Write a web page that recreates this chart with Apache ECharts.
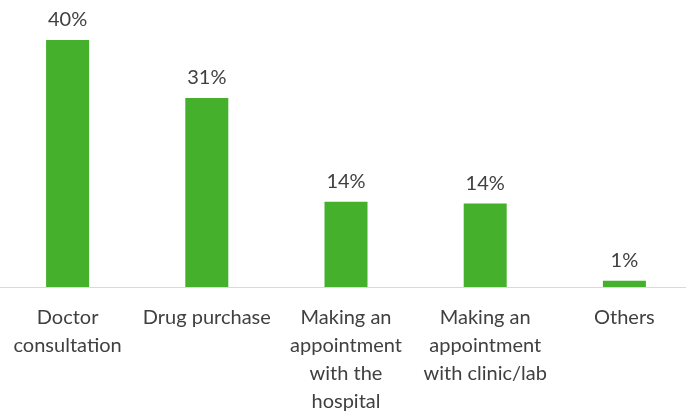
<!DOCTYPE html>
<html>
<head>
<meta charset="utf-8">
<script src="https://cdn.jsdelivr.net/npm/echarts@6/dist/echarts.min.js"></script>
<style>
  html, body { margin: 0; padding: 0; background: #fff; }
  #chart { width: 686px; height: 412px; }
</style>
</head>
<body>
<div id="chart"></div>
<script>
var categories = [
  'Doctor\nconsultation',
  'Drug purchase',
  'Making an\nappointment\nwith the\nhospital',
  'Making an\nappointment\nwith clinic/lab',
  'Others'
];
var shares = [40, 30.6, 13.8, 13.5, 1.0];

var dom = document.getElementById('chart');
var myChart = echarts.init(dom);

var option = {
  backgroundColor: '#fff',
  animation: false,
  grid: {
    left: -2,
    width: 696,
    top: 9,
    bottom: 125,
    outerBoundsMode: 'none',
    containLabel: false
  },
  xAxis: {
    type: 'category',
    data: categories,
    axisLine: { lineStyle: { color: '#d9d9d9', width: 1 } },
    axisTick: { show: false },
    axisLabel: {
      interval: 0,
      color: '#404040',
      fontFamily: 'Lato',
      fontSize: 20,
      lineHeight: 28,
      margin: 17
    }
  },
  yAxis: {
    type: 'value',
    min: 0,
    max: 45,
    show: false,
    splitLine: { show: false }
  },
  series: [
    {
      type: 'bar',
      data: shares,
      barWidth: 43,
      itemStyle: { color: '#44B02B' },
      label: {
        show: true,
        position: 'top',
        distance: 10,
        color: '#404040',
        fontFamily: 'Lato',
        fontSize: 20,
        formatter: function (p) { return Math.round(p.value) + '%'; }
      }
    }
  ]
};

if (option && typeof option === 'object') {
  myChart.setOption(option);
}

window.onresize = function () {
  myChart.resize();
};
</script>
</body>
</html>
